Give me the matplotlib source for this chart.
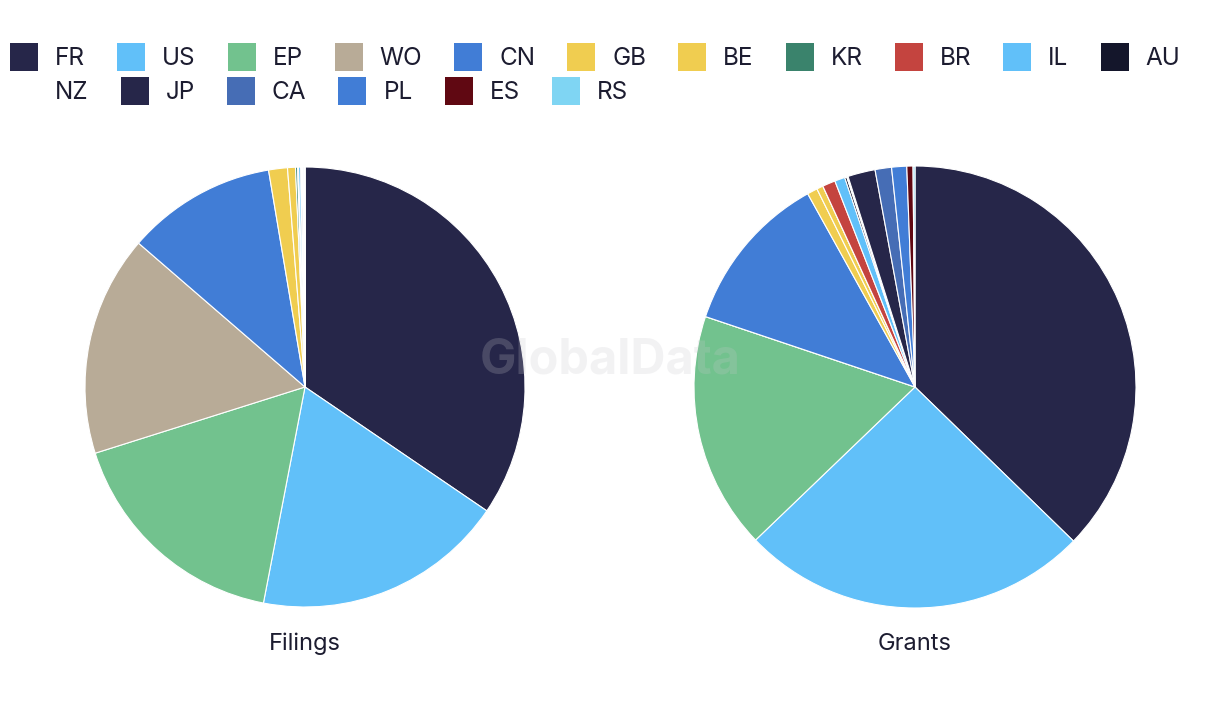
import matplotlib
matplotlib.use('Agg')
import matplotlib.pyplot as plt
from matplotlib.patches import Rectangle

# data (share of total)
countries = ['FR', 'US', 'EP', 'WO', 'CN', 'GB', 'BE', 'KR', 'BR', 'IL', 'AU',
             'NZ', 'JP', 'CA', 'PL', 'ES', 'RS']
filings = [34.5, 18.5, 17.1, 16.2, 11.0, 1.38, 0.58, 0.15, 0.07, 0.15, 0.08,
           0.03, 0.08, 0.05, 0.04, 0.02, 0.02]
grants = [37.2, 25.5, 17.3, 0.0, 11.75, 0.75, 0.47, 0.0, 0.94, 0.75, 0.15,
          0.10, 2.0, 1.2, 1.1, 0.45, 0.14]
colors = ['#262649', '#61c0f9', '#72c28e', '#b8ab97', '#417dd6', '#f0cd50',
          '#f0cd50', '#3a836c', '#c4443f', '#61c0f9', '#14162b', '#ffffff',
          '#262649', '#466db5', '#417dd6', '#600812', '#7fd5f3']

plt.rcParams['font.family'] = ['Inter', 'DejaVu Sans']
txt_color = '#1c1c30'

W, H = 1220, 720
fig = plt.figure(figsize=(W / 100, H / 100), dpi=100)


def add_pie(values, cx, cy, r, title):
    ax = fig.add_axes([(cx - r) / W, 1 - (cy + r) / H, 2 * r / W, 2 * r / H])
    ax.pie(values, colors=colors, startangle=90, counterclock=False,
           wedgeprops=dict(edgecolor='white', linewidth=0.8))
    ax.set_xlim(-1, 1)
    ax.set_ylim(-1, 1)
    ax.axis('off')
    fig.text(cx / W, 1 - 644 / H, title, ha='center', va='center',
             fontsize=17, color=txt_color)
    return ax


add_pie(filings, 305, 387, 220, 'Filings')
add_pie(grants, 915, 387, 221, 'Grants')

# watermark
fig.text(610 / W, 1 - 361 / H, 'GlobalData', ha='center', va='center',
         fontsize=35, fontweight='bold', color=(0.78, 0.78, 0.80), alpha=0.22,
         zorder=10)

# legend, laid out left to right with wrapping
renderer = fig.canvas.get_renderer()
x, row_y = 10, 57
sw = 28
for name, col in zip(countries, colors):
    t = fig.text(0, 0, name, fontsize=17.5, color=txt_color, va='center')
    tw = t.get_window_extent(renderer).width
    if x + sw + 17 + tw > 1205:
        x = 10
        row_y += 34
    fig.patches.append(Rectangle((x / W, 1 - (row_y + sw / 2) / H), sw / W, sw / H,
                                 transform=fig.transFigure, facecolor=col,
                                 edgecolor='none'))
    t.set_position(((x + sw + 17) / W, 1 - (row_y + 1.5) / H))
    x += sw + 17 + tw + 32

fig.savefig('out.png', dpi=100)
